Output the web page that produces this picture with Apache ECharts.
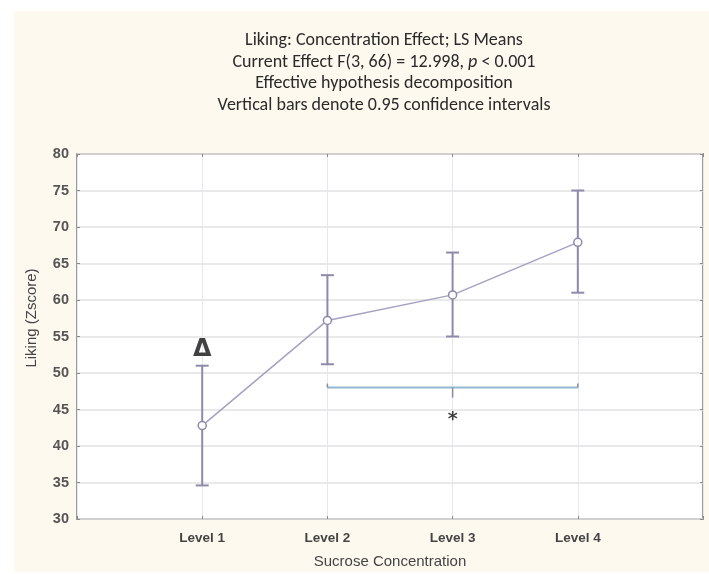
<!DOCTYPE html>
<html>
<head>
<meta charset="utf-8">
<script src="https://cdn.jsdelivr.net/npm/echarts@6/dist/echarts.min.js"></script>
<style>html,body{margin:0;padding:0;background:#fff}#c{width:709px;height:574px}</style>
</head>
<body>
<div id="c"></div>
<script>
const categories = ['', 'Level 1', 'Level 2', 'Level 3', 'Level 4', ''];
const means = [42.8, 57.2, 60.7, 67.9];
const lower = [34.6, 51.2, 55.0, 61.0];
const upper = [51.0, 63.4, 66.5, 75.0];
const yTicks = [30, 35, 40, 45, 50, 55, 60, 65, 70, 75, 80];
const bracket = [[2, 4, 48]];           // from level index, to level index, y value
const bracketMid = [3];                 // middle tick position
const marks = [[1, 53.2, 'Δ'], [3, 43.6, '*']];
const titleLines = [
  'Liking: Concentration Effect; LS Means',
  'Current Effect F(3, 66) = 12.998, ',
  'p',
  ' < 0.001',
  'Effective hypothesis decomposition',
  'Vertical bars denote 0.95 confidence intervals'
];

const chart = echarts.init(document.getElementById('c'));
const lineColor = '#a3a2c2';
const barColor = '#8c8bab';
const tf = 'Carlito, Lato, "Open Sans", sans-serif';
const af = '"Liberation Sans", Arial, sans-serif';
const tx = 384;
const tStyle = { fontFamily: tf, fontSize: 18, fill: '#2a2a2a', align: 'center', verticalAlign: 'middle' };

chart.setOption({
  animation: false,
  backgroundColor: '#ffffff',
  graphic: [
    { type: 'rect', z: -10, shape: { x: 14, y: 11, width: 709 - 14, height: 572 - 11 }, style: { fill: '#fdf9ee' } },
    { type: 'text', x: tx, y: 40, z: 10, style: Object.assign({ text: titleLines[0] }, tStyle) },
    { type: 'text', x: tx, y: 62, z: 10, style: Object.assign({
        text: '{a|' + titleLines[1] + '}{i|' + titleLines[2] + '}{a|' + titleLines[3] + '}',
        rich: {
          a: { fontFamily: tf, fontSize: 18, fill: '#2a2a2a' },
          i: { fontFamily: tf, fontSize: 18, fill: '#2a2a2a', fontStyle: 'italic' }
        } }, tStyle) },
    { type: 'text', x: tx, y: 83.5, z: 10, style: Object.assign({ text: titleLines[4] }, tStyle) },
    { type: 'text', x: tx, y: 105, z: 10, style: Object.assign({ text: titleLines[5] }, tStyle) },
    { type: 'text', x: 32, y: 318, rotation: Math.PI / 2, z: 10,
      style: { text: 'Liking (Zscore)', fontFamily: af, fontSize: 15, fill: '#444', align: 'center', verticalAlign: 'middle' } }
  ],
  grid: { left: 77, right: 6, top: 154, bottom: 54, show: true, backgroundColor: '#ffffff', borderColor: '#9c9c9c', borderWidth: 2 },
  xAxis: [{
    type: 'category', data: categories, boundaryGap: false,
    axisLine: { show: false },
    axisTick: { show: true, inside: true, length: 3, lineStyle: { color: '#888' }, interval: 0 },
    axisLabel: { interval: 0, margin: 12, color: '#444', fontWeight: 'bold', fontSize: 13.5, fontFamily: af },
    splitLine: { show: true, interval: 0, lineStyle: { color: '#e6e6ee', width: 1 } },
    name: 'Sucrose Concentration', nameLocation: 'middle', nameGap: 35,
    nameTextStyle: { color: '#444', fontSize: 15, fontFamily: af }
  }, {
    type: 'category', data: categories, boundaryGap: false, position: 'top',
    axisLine: { show: false }, axisLabel: { show: false },
    axisTick: { show: true, inside: true, length: 3, lineStyle: { color: '#888' }, interval: 0 }
  }],
  yAxis: [{
    type: 'value', min: yTicks[0], max: yTicks[yTicks.length - 1], interval: 5,
    axisLine: { show: false },
    axisTick: { show: true, inside: true, length: 3, lineStyle: { color: '#888' } },
    axisLabel: { margin: 8, color: '#555', fontWeight: 'bold', fontSize: 14.5, fontFamily: af },
    splitLine: { show: true, lineStyle: { color: '#e2e2e2', width: 1.5 } }
  }, {
    type: 'value', min: yTicks[0], max: yTicks[yTicks.length - 1], interval: 5, position: 'right',
    axisLine: { show: false }, axisLabel: { show: false }, splitLine: { show: false },
    axisTick: { show: true, inside: true, length: 3, lineStyle: { color: '#888' } }
  }],
  series: [
    {
      type: 'custom', z: 3,
      data: means.map((m, i) => [i + 1, lower[i], upper[i]]),
      renderItem: function (params, api) {
        const x = api.value(0);
        const lo = api.coord([x, api.value(1)]);
        const hi = api.coord([x, api.value(2)]);
        const w = 6.5;
        const st = { stroke: barColor, lineWidth: 2 };
        return { type: 'group', children: [
          { type: 'line', shape: { x1: lo[0], y1: lo[1], x2: hi[0], y2: hi[1] }, style: st },
          { type: 'line', shape: { x1: lo[0] - w, y1: lo[1], x2: lo[0] + w, y2: lo[1] }, style: st },
          { type: 'line', shape: { x1: hi[0] - w, y1: hi[1], x2: hi[0] + w, y2: hi[1] }, style: st }
        ] };
      }
    },
    {
      type: 'line', z: 5,
      data: means.map((m, i) => [i + 1, m]),
      lineStyle: { color: lineColor, width: 1.5 },
      symbol: 'circle', symbolSize: 8,
      itemStyle: { color: '#ffffff', borderColor: barColor, borderWidth: 1.5 }
    },
    {
      type: 'custom', z: 3,
      data: bracket,
      renderItem: function (params, api) {
        const a = api.coord([api.value(0), api.value(2)]);
        const b = api.coord([api.value(1), api.value(2)]);
        const m = api.coord([bracketMid[params.dataIndex], api.value(2)]);
        const st = { stroke: '#94b6cf', lineWidth: 2 };
        const st2 = { stroke: '#8a8aa0', lineWidth: 1.5 };
        return { type: 'group', children: [
          { type: 'line', shape: { x1: a[0], y1: a[1], x2: b[0], y2: b[1] }, style: st },
          { type: 'line', shape: { x1: a[0], y1: a[1], x2: a[0], y2: a[1] - 4 }, style: st2 },
          { type: 'line', shape: { x1: b[0], y1: b[1], x2: b[0], y2: b[1] - 4 }, style: st2 },
          { type: 'line', shape: { x1: m[0], y1: m[1], x2: m[0], y2: m[1] + 10 }, style: st2 }
        ] };
      }
    },
    {
      type: 'scatter', z: 6, symbolSize: 0,
      data: marks.map((d, i) => ({ value: [d[0], d[1]], label: { formatter: d[2], fontSize: i === 0 ? 24 : 19 } })),
      label: { show: true, position: 'inside', color: '#111', fontWeight: 'bold', fontFamily: '"DejaVu Sans", sans-serif' }
    }
  ]
});
</script>
</body>
</html>
